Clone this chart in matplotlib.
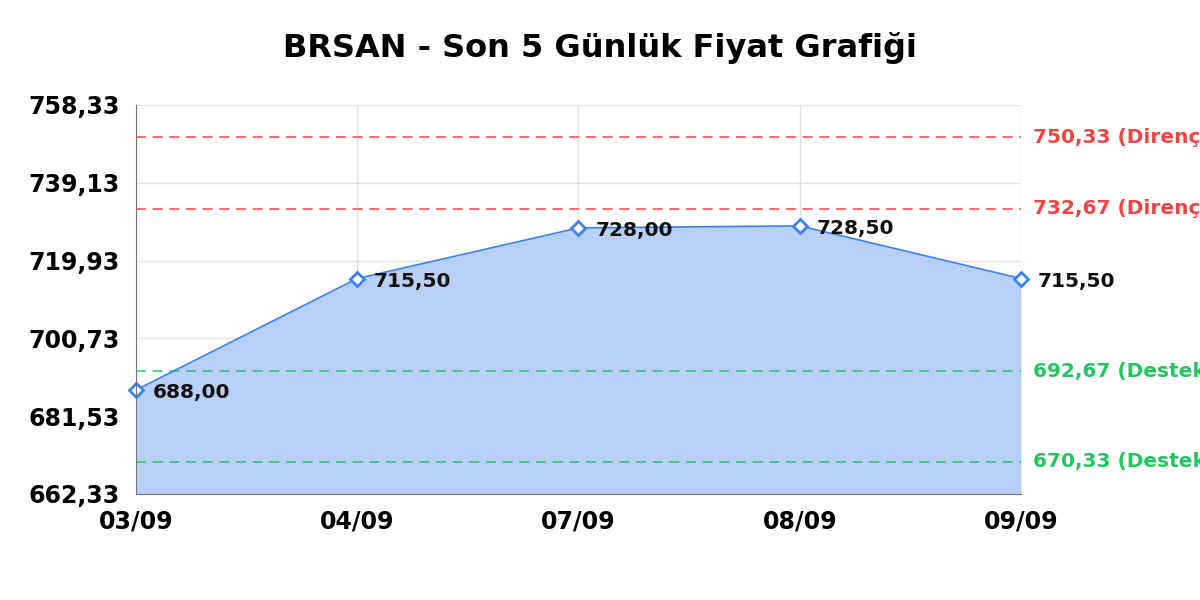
import numpy as np
import matplotlib
matplotlib.use('Agg')
import matplotlib.pyplot as plt

plt.rcParams.update({
    "font.family": ["DejaVu Sans"],
})

# data
dates = ["03/09", "04/09", "07/09", "08/09", "09/09"]
prices = [688.00, 715.50, 728.00, 728.50, 715.50]
resistance = [750.33, 732.67]
support = [692.67, 670.33]
y_min, y_max = 662.33, 758.33
y_ticks = [662.33, 681.53, 700.73, 719.93, 739.13, 758.33]

LINE = '#3b82f6'
FILL = '#b8cff8'
RED = '#ef4444'
GREEN = '#22c55e'


def fmt(v):
    return f"{v:.2f}".replace('.', ',')


fig = plt.figure(figsize=(12, 6), dpi=100)
ax = fig.add_axes([0.1133, 0.1767, 0.7375, 0.6483])

x = np.arange(len(dates))
ax.fill_between(x, prices, y_min, color=FILL, lw=0, zorder=2)
ax.plot(x, prices, color=LINE, lw=1.2, zorder=4)
ax.plot(x, prices, ls='none', marker='D', ms=7, mfc='white', mec=LINE,
        mew=2, zorder=5, clip_on=False)

for xi, p in zip(x, prices):
    ax.annotate(fmt(p), (xi, p), xytext=(12, -2), textcoords='offset points',
                ha='left', va='center', fontsize=14.5, fontweight='bold',
                color='#111111', zorder=6, annotation_clip=False)

# resistance / support lines; labels run off the right edge as in the original
for r in resistance:
    ax.axhline(r, color=RED, ls=(0, (6, 4)), lw=1.2, alpha=0.9, zorder=3)
    ax.annotate(f"{fmt(r)} (Direnç)", (1, r), xycoords=('axes fraction', 'data'),
                xytext=(9, 0), textcoords='offset points', ha='left', va='center',
                fontsize=14.5, fontweight='bold', color=RED, annotation_clip=False)
for s in support:
    ax.axhline(s, color=GREEN, ls=(0, (6, 4)), lw=1.2, alpha=0.9, zorder=3)
    ax.annotate(f"{fmt(s)} (Destek)", (1, s), xycoords=('axes fraction', 'data'),
                xytext=(9, 0), textcoords='offset points', ha='left', va='center',
                fontsize=14.5, fontweight='bold', color=GREEN, annotation_clip=False)

ax.set_xlim(0, len(dates) - 1)
ax.set_ylim(y_min, y_max)
ax.set_xticks(x)
ax.set_xticklabels(dates)
ax.set_yticks(y_ticks)
ax.set_yticklabels([fmt(v) for v in y_ticks])
ax.tick_params(length=0, labelsize=17)
ax.tick_params(axis='y', pad=12)
ax.tick_params(axis='x', pad=11)
for lbl in ax.get_xticklabels() + ax.get_yticklabels():
    lbl.set_fontweight('bold')

ax.grid(True, color='#e3e3e3', lw=1, zorder=1)
ax.set_axisbelow(True)
for side in ('top', 'right'):
    ax.spines[side].set_visible(False)
for side in ('left', 'bottom'):
    ax.spines[side].set_color('#777777')
    ax.spines[side].set_zorder(6)

fig.suptitle("BRSAN - Son 5 Günlük Fiyat Grafiği", fontsize=23, fontweight='bold',
             y=0.947)

fig.savefig('out.png', dpi=100, facecolor='white')
